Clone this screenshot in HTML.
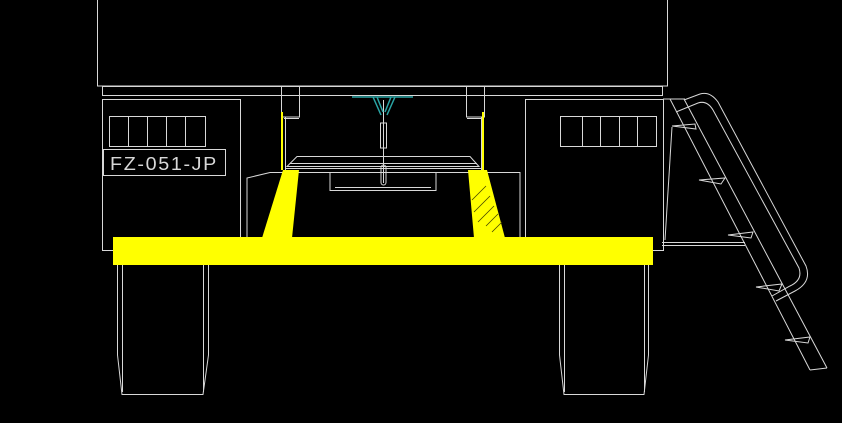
<!DOCTYPE html>
<html><head><meta charset="utf-8"><style>
html,body{margin:0;padding:0;background:#000;width:842px;height:423px;overflow:hidden}
svg{display:block}
text{font-family:"Liberation Sans",sans-serif}
</style></head><body>
<svg width="842" height="423" viewBox="0 0 842 423" xmlns="http://www.w3.org/2000/svg">
<g fill="none" stroke="#d8d8d8" stroke-width="1">
<rect x="97.5" y="-2" width="570" height="88"/>
<rect x="102.5" y="86.5" width="560" height="9"/>
<rect x="102.5" y="99.5" width="138" height="151"/>
<rect x="109.5" y="116.5" width="96" height="30"/>
<line x1="128.5" y1="116" x2="128.5" y2="147"/><line x1="147.5" y1="116" x2="147.5" y2="147"/><line x1="166.5" y1="116" x2="166.5" y2="147"/><line x1="185.5" y1="116" x2="185.5" y2="147"/>
<rect x="103.5" y="149.5" width="122" height="26"/>
<rect x="525.5" y="99.5" width="138" height="151"/>
<rect x="560.5" y="116.5" width="96" height="30"/>
<line x1="582.5" y1="116" x2="582.5" y2="147"/><line x1="600.5" y1="116" x2="600.5" y2="147"/><line x1="619.5" y1="116" x2="619.5" y2="147"/><line x1="637.5" y1="116" x2="637.5" y2="147"/>
<rect x="281.5" y="86" width="18" height="31"/>
<rect x="466.5" y="86" width="18" height="31"/>
<line x1="284" y1="118.5" x2="299" y2="118.5"/><line x1="467" y1="118.5" x2="482" y2="118.5"/>
<line x1="285.5" y1="117" x2="285.5" y2="170"/><line x1="481.5" y1="117" x2="481.5" y2="170"/>
<line x1="285" y1="168.5" x2="481" y2="168.5"/>
<path d="M287 166.5 L297 156.5 L470 156.5 L479 166.5 Z"/>
<line x1="290" y1="163.5" x2="477" y2="163.5"/>
<path d="M247 237 V178 L270 172.5 H520 L520 237"/>
<path d="M330 173 V190.5 H436 V173"/>
<line x1="335" y1="187.5" x2="431" y2="187.5"/>
<line x1="383.5" y1="100" x2="383.5" y2="183"/>
<rect x="380.5" y="123" width="6" height="25"/>
<rect x="381" y="165" width="5" height="20" rx="2.5"/>
<path d="M117.5 265 V355 L122 394.5 H203 L208.5 355 V265"/>
<line x1="122.5" y1="265" x2="122.5" y2="392"/><line x1="203.5" y1="265" x2="203.5" y2="392"/>
<path d="M559.5 265 V355 L564 394.5 H644 L648.5 355 V265"/>
<line x1="564.5" y1="265" x2="564.5" y2="392"/><line x1="644.5" y1="265" x2="644.5" y2="392"/>
<line x1="670" y1="99" x2="810" y2="370"/>
<line x1="684" y1="99" x2="827" y2="368"/>
<line x1="810" y1="370" x2="827" y2="368"/>
<line x1="663" y1="99" x2="685" y2="99"/>
<path d="M684 100 L700 94 Q710 91 718 102 L806 266 Q812 282 795 291 L776 301"/>
<path d="M676 112 L698 103 Q707 100 713 110 L799 268 Q803 280 790 286 L772 296"/>
<line x1="663.5" y1="99" x2="663.5" y2="245"/>
<line x1="672" y1="127" x2="665" y2="240"/>
<line x1="662" y1="242.5" x2="745" y2="242.5"/>
<line x1="662" y1="245.5" x2="745" y2="245.5"/>
<path d="M672 126 L695 124 L696 129 Z"/>
<path d="M699 180 L725 178 L721 184 Z"/>
<path d="M728 235 L753 232 L751 238 Z"/>
<path d="M756 287 L782 284 L779 291 Z"/>
<path d="M785 340 L810 337 L808 343 Z"/>
</g>
<text x="110" y="170" fill="#d8d8d8" font-size="18" letter-spacing="1.5" textLength="108" lengthAdjust="spacingAndGlyphs">FZ-051-JP</text>
<g fill="none" stroke="#2aa5a5" stroke-width="1.5">
<line x1="352" y1="97" x2="413" y2="97"/>
<path d="M373 97 L381 115 M395 97 L387 115 M377 97 L383 112 M391 97 L385 112"/>
</g>
<g fill="#ffff00">
<rect x="113" y="237" width="540" height="28"/>
<polygon points="283,170 299,170 292,238 262,238"/>
<polygon points="468,170 487,170 505,238 474,238"/>
<rect x="281" y="112" width="2" height="58"/>
<rect x="482" y="112" width="2" height="58"/>
</g>
<g stroke="#444400" stroke-width="0.8">
<line x1="472" y1="200" x2="486" y2="186"/><line x1="474" y1="212" x2="490" y2="196"/><line x1="478" y1="222" x2="494" y2="206"/><line x1="486" y1="226" x2="498" y2="214"/><line x1="492" y1="232" x2="502" y2="222"/>
</g>
</svg>
</body></html>
